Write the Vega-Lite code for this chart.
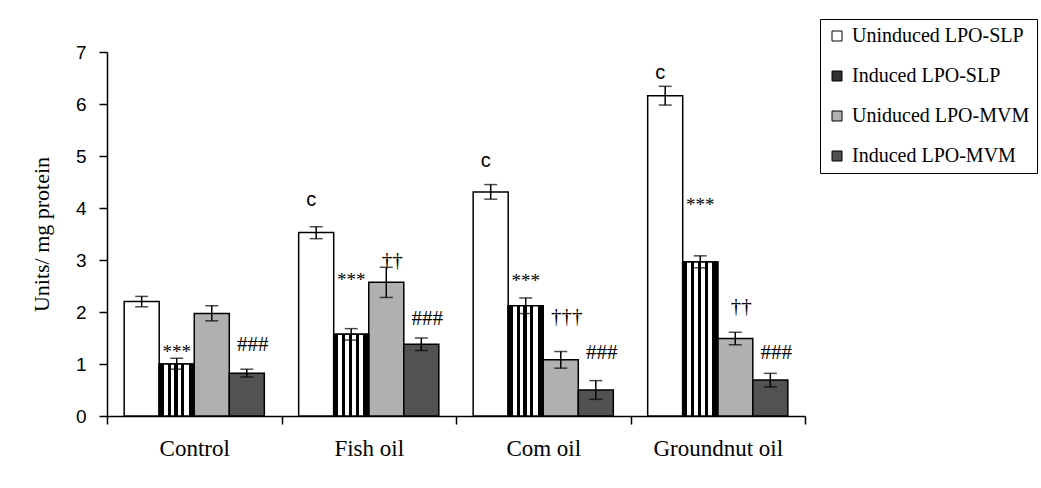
{
  "$schema": "https://vega.github.io/schema/vega-lite/v6.json",
  "width": 698,
  "height": 364,
  "autosize": {"type": "none"},
  "padding": {"left": 107, "top": 52, "right": 236, "bottom": 72},
  "background": "white",
  "config": {"view": {"stroke": null}, "font": "Liberation Serif"},
  "datasets": {
    "bars": [
      {"group": "Control", "series": "Uninduced LPO-SLP", "value": 2.2, "lo": 2.1, "hi": 2.3},
      {"group": "Control", "series": "Induced LPO-SLP", "value": 1.0, "lo": 0.9, "hi": 1.11},
      {"group": "Control", "series": "Uniduced LPO-MVM", "value": 1.97, "lo": 1.83, "hi": 2.12},
      {"group": "Control", "series": "Induced LPO-MVM", "value": 0.82, "lo": 0.75, "hi": 0.9},
      {"group": "Fish oil", "series": "Uninduced LPO-SLP", "value": 3.53, "lo": 3.41, "hi": 3.64},
      {"group": "Fish oil", "series": "Induced LPO-SLP", "value": 1.57, "lo": 1.46, "hi": 1.68},
      {"group": "Fish oil", "series": "Uniduced LPO-MVM", "value": 2.57, "lo": 2.28, "hi": 2.86},
      {"group": "Fish oil", "series": "Induced LPO-MVM", "value": 1.38, "lo": 1.26, "hi": 1.5},
      {"group": "Com oil", "series": "Uninduced LPO-SLP", "value": 4.31, "lo": 4.17, "hi": 4.45},
      {"group": "Com oil", "series": "Induced LPO-SLP", "value": 2.12, "lo": 1.97, "hi": 2.27},
      {"group": "Com oil", "series": "Uniduced LPO-MVM", "value": 1.08, "lo": 0.92, "hi": 1.24},
      {"group": "Com oil", "series": "Induced LPO-MVM", "value": 0.5, "lo": 0.32, "hi": 0.68},
      {"group": "Groundnut oil", "series": "Uninduced LPO-SLP", "value": 6.16, "lo": 5.98, "hi": 6.34},
      {"group": "Groundnut oil", "series": "Induced LPO-SLP", "value": 2.96, "lo": 2.85, "hi": 3.08},
      {"group": "Groundnut oil", "series": "Uniduced LPO-MVM", "value": 1.49, "lo": 1.37, "hi": 1.61},
      {"group": "Groundnut oil", "series": "Induced LPO-MVM", "value": 0.69, "lo": 0.56, "hi": 0.82}
    ],
    "notes": [
      {"group": "Control", "series": "Induced LPO-SLP", "label": "***", "pos": 1.31},
      {"group": "Control", "series": "Induced LPO-MVM", "label": "###", "pos": 1.37},
      {"group": "Fish oil", "series": "Uninduced LPO-SLP", "label": "c", "pos": 4.16},
      {"group": "Fish oil", "series": "Induced LPO-SLP", "label": "***", "pos": 2.7},
      {"group": "Fish oil", "series": "Uniduced LPO-MVM", "label": "††", "pos": 2.98},
      {"group": "Fish oil", "series": "Induced LPO-MVM", "label": "###", "pos": 1.87},
      {"group": "Com oil", "series": "Uninduced LPO-SLP", "label": "c", "pos": 4.91},
      {"group": "Com oil", "series": "Induced LPO-SLP", "label": "***", "pos": 2.68},
      {"group": "Com oil", "series": "Uniduced LPO-MVM", "label": "†††", "pos": 1.91},
      {"group": "Com oil", "series": "Induced LPO-MVM", "label": "###", "pos": 1.22},
      {"group": "Groundnut oil", "series": "Uninduced LPO-SLP", "label": "c", "pos": 6.6},
      {"group": "Groundnut oil", "series": "Induced LPO-SLP", "label": "***", "pos": 4.13},
      {"group": "Groundnut oil", "series": "Uniduced LPO-MVM", "label": "††", "pos": 2.1},
      {"group": "Groundnut oil", "series": "Induced LPO-MVM", "label": "###", "pos": 1.22}
    ]
  },
  "encoding": {
    "x": {
      "field": "group",
      "type": "nominal",
      "title": null,
      "scale": {"domain": ["Control", "Fish oil", "Com oil", "Groundnut oil"], "paddingInner": 0, "paddingOuter": 0},
      "axis": {
        "labelAngle": 0,
        "labelFont": "Liberation Serif",
        "labelFontSize": 23,
        "labelColor": "black",
        "labelPadding": 13,
        "tickBand": "extent",
        "tickSize": 8,
        "tickWidth": 1.5,
        "tickColor": "black",
        "domainColor": "black",
        "domainWidth": 1.5,
        "grid": false
      }
    },
    "xOffset": {
      "field": "series",
      "type": "nominal",
      "scale": {"domain": ["Uninduced LPO-SLP", "Induced LPO-SLP", "Uniduced LPO-MVM", "Induced LPO-MVM"], "paddingInner": 0, "paddingOuter": 0.49}
    }
  },
  "layer": [
    {
      "data": {"name": "bars"},
      "mark": {"type": "bar", "stroke": "black", "strokeWidth": 1.5},
      "encoding": {
        "y": {
          "field": "value",
          "type": "quantitative",
          "title": "Units/ mg protein",
          "scale": {"domain": [0, 7]},
          "axis": {
            "values": [0, 1, 2, 3, 4, 5, 6, 7],
            "format": "d",
            "labelFont": "Liberation Sans",
            "labelFontSize": 19,
            "labelColor": "black",
            "labelPadding": 13,
            "tickSize": 8,
            "tickWidth": 1.5,
            "tickColor": "black",
            "domainColor": "black",
            "domainWidth": 1.5,
            "grid": false,
            "titleFont": "Liberation Serif",
            "titleFontSize": 22,
            "titleFontWeight": "normal",
            "titleColor": "black",
            "titlePadding": 22
          }
        },
        "fill": {
          "field": "series",
          "type": "nominal",
          "scale": {
            "domain": ["Uninduced LPO-SLP", "Induced LPO-SLP", "Uniduced LPO-MVM", "Induced LPO-MVM"],
            "range": ["#ffffff", "#303030", "#b0b0b0", "#525252"]
          },
          "legend": {
            "title": null,
            "orient": "none",
            "legendX": 713,
            "legendY": -33,
            "strokeColor": "black",
            "fillColor": "white",
            "padding": 7,
            "rowPadding": 20,
            "labelFont": "Liberation Serif",
            "labelFontSize": 20,
            "labelColor": "black",
            "labelOffset": 5,
            "labelLimit": 300,
            "symbolType": "square",
            "symbolSize": 100,
            "symbolStrokeColor": "black",
            "symbolStrokeWidth": 1
          }
        }
      }
    },
    {
      "data": {"name": "bars"},
      "transform": [{"filter": "datum.series === 'Induced LPO-SLP'"}],
      "mark": {
        "type": "bar",
        "stroke": "black",
        "strokeWidth": 1.5,
        "fill": {
          "gradient": "linear",
          "x1": 0, "y1": 0, "x2": 1, "y2": 0,
          "stops": [
            {"offset": 0, "color": "black"},
            {"offset": 0.13, "color": "black"},
            {"offset": 0.13, "color": "white"},
            {"offset": 0.24, "color": "white"},
            {"offset": 0.24, "color": "black"},
            {"offset": 0.33, "color": "black"},
            {"offset": 0.33, "color": "white"},
            {"offset": 0.43, "color": "white"},
            {"offset": 0.43, "color": "black"},
            {"offset": 0.53, "color": "black"},
            {"offset": 0.53, "color": "white"},
            {"offset": 0.63, "color": "white"},
            {"offset": 0.63, "color": "black"},
            {"offset": 0.72, "color": "black"},
            {"offset": 0.72, "color": "white"},
            {"offset": 0.84, "color": "white"},
            {"offset": 0.84, "color": "black"},
            {"offset": 1, "color": "black"}
          ]
        }
      },
      "encoding": {
        "y": {"field": "value", "type": "quantitative", "title": "Units/ mg protein"}
      }
    },
    {
      "data": {"name": "bars"},
      "mark": {"type": "rule", "color": "black", "strokeWidth": 1.5},
      "encoding": {
        "y": {"field": "lo", "type": "quantitative", "title": "Units/ mg protein"},
        "y2": {"field": "hi"}
      }
    },
    {
      "data": {"name": "bars"},
      "mark": {"type": "tick", "color": "black", "thickness": 1.5, "size": 13, "orient": "horizontal"},
      "encoding": {
        "y": {"field": "hi", "type": "quantitative", "title": "Units/ mg protein"}
      }
    },
    {
      "data": {"name": "bars"},
      "mark": {"type": "tick", "color": "black", "thickness": 1.5, "size": 13, "orient": "horizontal"},
      "encoding": {
        "y": {"field": "lo", "type": "quantitative", "title": "Units/ mg protein"}
      }
    },
    {
      "data": {"name": "notes"},
      "transform": [{"filter": "datum.label === 'c'"}],
      "mark": {"type": "text", "font": "Liberation Sans", "fontSize": 20, "color": "black", "baseline": "middle", "align": "center", "dx": -5},
      "encoding": {
        "y": {"field": "pos", "type": "quantitative", "title": "Units/ mg protein"},
        "text": {"field": "label"}
      }
    },
    {
      "data": {"name": "notes"},
      "transform": [{"filter": "datum.label === '***'"}],
      "mark": {"type": "text", "font": "Liberation Serif", "fontSize": 19, "color": "black", "baseline": "middle", "align": "center", "dy": 4},
      "encoding": {
        "y": {"field": "pos", "type": "quantitative", "title": "Units/ mg protein"},
        "text": {"field": "label"}
      }
    },
    {
      "data": {"name": "notes"},
      "transform": [{"filter": "datum.label !== 'c' && datum.label !== '***'"}],
      "mark": {"type": "text", "font": "Liberation Serif", "fontSize": 21, "color": "black", "baseline": "middle", "align": "center", "dx": 6},
      "encoding": {
        "y": {"field": "pos", "type": "quantitative", "title": "Units/ mg protein"},
        "text": {"field": "label"}
      }
    }
  ]
}
